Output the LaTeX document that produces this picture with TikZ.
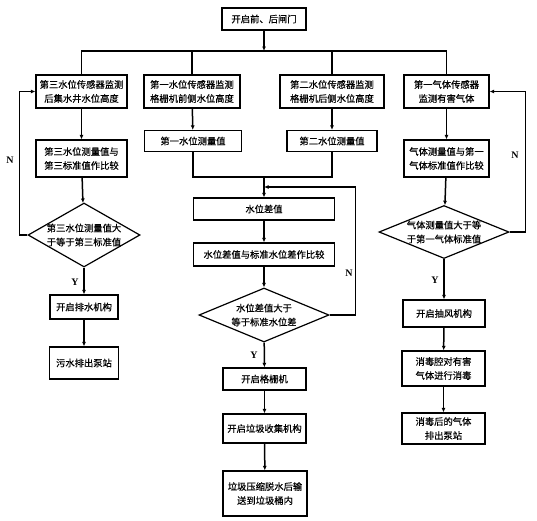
\documentclass[tikz,border=0pt]{standalone}
\usepackage{fontspec}
\setmainfont{Liberation Serif}
\newfontfamily\cjk{Noto Sans CJK SC}[FakeBold=0.4]
\usetikzlibrary{shapes.geometric,arrows.meta}
\begin{document}
\begin{tikzpicture}[x=1pt, y=-1pt,
    box/.style={rectangle, draw, line width=1.2pt, inner sep=1pt, align=center, font=\cjk\fontsize{9.3}{14}\selectfont},
    dec/.style={diamond, draw, line width=1.2pt, inner sep=0pt},
    dectext/.style={align=center, inner sep=0pt, font=\cjk\fontsize{9.3}{14}\selectfont},
    arrow/.style={-{Latex[length=4.5pt,width=4pt]}, line width=1.5pt},
    line/.style={line width=1.5pt},
    yn/.style={font=\bfseries\fontsize{10}{12}\selectfont},
]
\useasboundingbox (0,0) rectangle (537,520);

% start
\node[box, minimum width=84pt, minimum height=22pt] (START) at (264,19) {开启前、后闸门};
\coordinate (BUS) at (264,51);

% sensors
\node[box, minimum width=91pt, minimum height=33pt] (S3) at (81.5,91.5) {第三水位传感器监测\\后集水井水位高度};
\node[box, minimum width=96pt, minimum height=33pt] (S1) at (192,91.5) {第一水位传感器监测\\格栅机前侧水位高度};
\node[box, minimum width=104pt, minimum height=33pt] (S2) at (332,91.5) {第二水位传感器监测\\格栅机后侧水位高度};
\node[box, minimum width=85pt, minimum height=33pt] (G1) at (446.5,91.5) {第一气体传感器\\监测有害气体};

% measured values
\node[box, minimum width=91pt, minimum height=37pt] (C3) at (81.5,158.5) {第三水位测量值与\\第三标准值作比较};
\node[box, minimum width=97pt, minimum height=21pt] (M1) at (193,141) {第一水位测量值};
\node[box, minimum width=90pt, minimum height=21pt] (M2) at (332,141) {第二水位测量值};
\node[box, minimum width=85pt, minimum height=37pt] (CG) at (446.5,158.5) {气体测量值与第一\\气体标准值作比较};

% water level difference
\coordinate (MERGE) at (264,177);
\coordinate (LOOPIN) at (264,187);
\node[box, minimum width=141pt, minimum height=22pt] (DIFF) at (264,209) {水位差值};
\node[box, minimum width=141pt, minimum height=23pt] (CMP) at (264,254.5) {水位差值与标准水位差作比较};

% decisions
\node[dec, minimum width=112pt, minimum height=64pt, label={[dectext]center:第三水位测量值大\\于等于第三标准值}] (D3) at (84,235) {};
\node[dec, minimum width=130pt, minimum height=54pt, label={[dectext]center:水位差值大于\\等于标准水位差}] (DW) at (264,315) {};
\node[dec, minimum width=130pt, minimum height=53pt, label={[dectext]center:气体测量值大于等\\于第一气体标准值}] (DG) at (444,232) {};

% actions
\node[box, minimum width=68pt, minimum height=24pt] (PUMP) at (84,307) {开启排水机构};
\node[box, minimum width=69pt, minimum height=32pt] (SEW) at (84,363) {污水排出泵站};
\node[box, minimum width=83pt, minimum height=22pt] (GRID) at (264.5,379) {开启格栅机};
\node[box, minimum width=83pt, minimum height=29pt] (COLLECT) at (264.5,428.5) {开启垃圾收集机构};
\node[box, minimum width=84pt, minimum height=45pt] (PRESS) at (265,493.5) {垃圾压缩脱水后输\\送到垃圾桶内};
\node[box, minimum width=82pt, minimum height=27pt] (FAN) at (444,313.5) {开启抽风机构};
\node[box, minimum width=83pt, minimum height=35pt] (DIS) at (443.5,368.5) {消毒腔对有害\\气体进行消毒};
\node[box, minimum width=83pt, minimum height=31pt] (EXH) at (443.5,428.5) {消毒后的气体\\排出泵站};

% labels
\node[yn] (N1) at (10,160) {N};
\node[yn] (Y1) at (75,282) {Y};
\node[yn] (N2) at (349,273) {N};
\node[yn] (Y2) at (254,355) {Y};
\node[yn] (N3) at (515,155) {N};
\node[yn] (Y3) at (435,280) {Y};

% connectors
\draw[arrow] (START) -- (BUS);
\draw[line] (S3.north) |- (BUS) -| (G1.north);
\draw[line] (S1.north) -- (S1.north |- BUS);
\draw[line] (S2.north) -- (S2.north |- BUS);

\draw[arrow] (S3) -- (C3);
\draw[arrow] (S1) -- (M1);
\draw[arrow] (S2) -- (M2);
\draw[arrow] (G1) -- (CG);

\draw[arrow] (C3) -- (D3);
\draw[arrow] (D3) -- (PUMP);
\draw[arrow] (PUMP) -- (SEW);
\draw[arrow] (D3.west) -- ++(-8,0) |- (S3.west);

\draw[line] (M1.south) |- (MERGE) -| (M2.south);
\draw[arrow] (MERGE) -- (DIFF);
\draw[arrow] (DIFF) -- (CMP);
\draw[arrow] (CMP) -- (DW);
\draw[arrow] (DW) -- (GRID);
\draw[arrow] (GRID) -- (COLLECT);
\draw[arrow] (COLLECT) -- (PRESS);
\draw[arrow] (DW.east) -- ++(26,0) |- (LOOPIN);

\draw[arrow] (CG) -- (DG);
\draw[arrow] (DG) -- (FAN);
\draw[arrow] (FAN) -- (DIS);
\draw[arrow] (DIS) -- (EXH);
\draw[arrow] (DG.east) -- ++(16,0) |- (G1.east);
\end{tikzpicture}
\end{document}
